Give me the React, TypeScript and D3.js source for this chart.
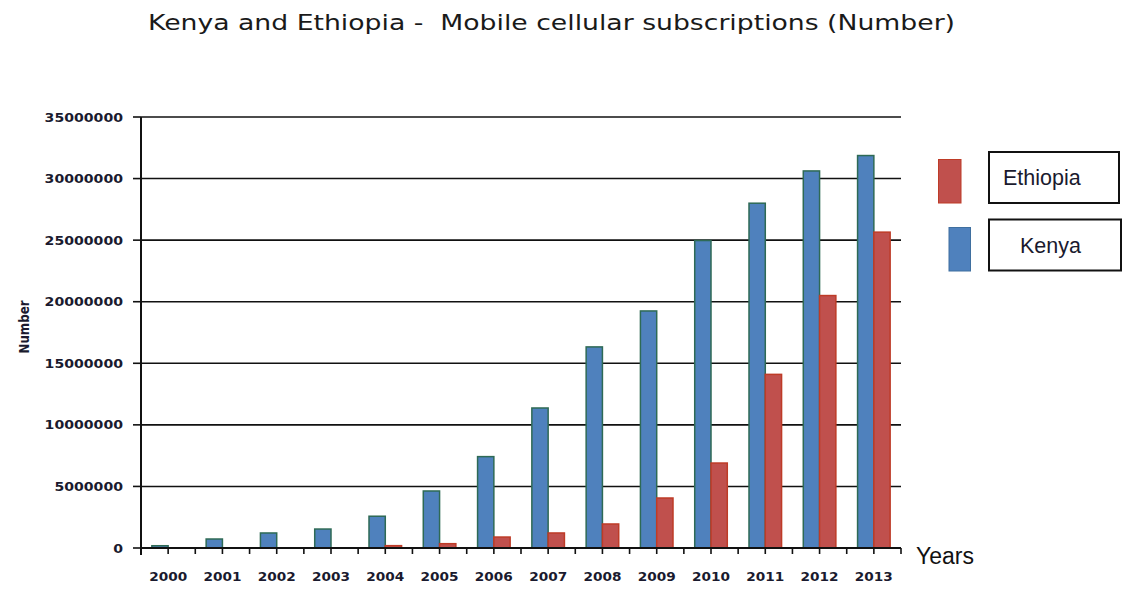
import React from "react";
import * as d3 from "d3";

const years = ["2000","2001","2002","2003","2004","2005","2006","2007","2008","2009","2010","2011","2012","2013"];
const kenya = [184000, 730000, 1220000, 1540000, 2580000, 4630000, 7420000, 11370000, 16330000, 19250000, 24970000, 28000000, 30620000, 31870000];
const ethiopia = [0, 0, 0, 0, 190000, 350000, 890000, 1220000, 1950000, 4060000, 6900000, 14100000, 20500000, 25650000];
const yTicks = [0, 5000000, 10000000, 15000000, 20000000, 25000000, 30000000, 35000000];
const seriesNames = ["Kenya", "Ethiopia"];

const W = 1124, H = 589;
const left = 141, right = 901, top = 117, bottom = 548;

export default function App() {
  const x0 = d3.scaleBand<string>().domain(years).range([left, right]).padding(0);
  const bw = x0.bandwidth();
  const x1 = d3.scaleBand<string>().domain(seriesNames).range([bw * 0.2, bw * 0.8]).padding(0);
  const y = d3.scaleLinear().domain([0, 35000000]).range([bottom, top]);
  const colors: Record<string, string> = { Kenya: "#4F81BD", Ethiopia: "#C0504D" };
  const strokes: Record<string, string> = { Kenya: "#2E6A55", Ethiopia: "#BE3B27" };
  const vals: Record<string, number[]> = { Kenya: kenya, Ethiopia: ethiopia };
  const xTickPos: number[] = [];
  years.forEach((yr) => {
    xTickPos.push(x0(yr)!);
    xTickPos.push(x0(yr)! + bw / 2);
  });
  xTickPos.push(right);

  return (
    <svg width={W} height={H} style={{ position: "absolute", left: 0, top: 0, background: "#fff" }}>
      <rect x={0} y={0} width={W} height={H} fill="#fff" />
      <text x={148} y={30} textAnchor="start" fontFamily="DejaVu Sans, sans-serif" fontSize={21} fill="#1a1a1a" textLength={807} lengthAdjust="spacingAndGlyphs" style={{ whiteSpace: "pre" }}>
        {"Kenya and Ethiopia -  Mobile cellular subscriptions (Number)"}
      </text>
      {yTicks.filter((t) => t > 0).map((t) => (
        <line key={"g" + t} x1={left} x2={right} y1={y(t)} y2={y(t)} stroke="#111" strokeWidth={1.6} />
      ))}
      {yTicks.map((t) => (
        <g key={"yt" + t}>
          <line x1={133} x2={left} y1={y(t)} y2={y(t)} stroke="#111" strokeWidth={1.6} />
          <text x={123} y={y(t)} dy="0.36em" textAnchor="end" fontFamily="DejaVu Sans, sans-serif" fontWeight="bold" fontSize={12.5} fill="#1a1a2e" textLength={String(t).length * 9.8} lengthAdjust="spacingAndGlyphs">
            {String(t)}
          </text>
        </g>
      ))}
      {years.map((yr, i) =>
        seriesNames.map((s) => {
          const v = vals[s][i];
          if (v <= 0) return null;
          const bx = x0(yr)! + x1(s)!;
          return (
            <rect key={yr + s} x={bx} y={y(v)} width={x1.bandwidth()} height={bottom - y(v)} fill={colors[s]} stroke={strokes[s]} strokeWidth={1.5} />
          );
        })
      )}
      <line x1={left} x2={right} y1={bottom} y2={bottom} stroke="#111" strokeWidth={2} />
      <line x1={left} x2={left} y1={top} y2={555} stroke="#111" strokeWidth={2} />
      {xTickPos.map((p, i) => (
        <line key={"xt" + i} x1={p} x2={p} y1={bottom} y2={554} stroke="#111" strokeWidth={1.6} />
      ))}
      {years.map((yr) => (
        <text key={"xl" + yr} x={x0(yr)! + bw / 2} y={581} textAnchor="middle" fontFamily="DejaVu Sans, sans-serif" fontWeight="bold" fontSize={12.5} fill="#1a1a2e" textLength={38} lengthAdjust="spacingAndGlyphs">
          {yr}
        </text>
      ))}
      <text transform={`translate(29,327) rotate(-90)`} textAnchor="middle" fontFamily="DejaVu Sans Condensed, DejaVu Sans, sans-serif" fontWeight="bold" fontSize={13.5} fill="#1a1a2e" textLength={53} lengthAdjust="spacingAndGlyphs">
        Number
      </text>
      <text x={916} y={564} fontFamily="Liberation Sans, Arial, sans-serif" fontSize={23} fill="#111">Years</text>
      <rect x={938.5} y={159.5} width={22.5} height={43.5} fill={colors.Ethiopia} stroke={strokes.Ethiopia} strokeWidth={1} />
      <rect x={949} y={227.5} width={21.5} height={43.5} fill={colors.Kenya} stroke="#3F6F9F" strokeWidth={1} />
      <rect x={989} y={152} width={130} height={51} fill="#fff" stroke="#111" strokeWidth={2} />
      <rect x={989} y={219.5} width={132} height={51} fill="#fff" stroke="#111" strokeWidth={2} />
      <text x={1003} y={185} fontFamily="Liberation Sans, Arial, sans-serif" fontSize={21.5} fill="#1a1a2e">Ethiopia</text>
      <text x={1020} y={253} fontFamily="Liberation Sans, Arial, sans-serif" fontSize={21.5} fill="#1a1a2e">Kenya</text>
    </svg>
  );
}
